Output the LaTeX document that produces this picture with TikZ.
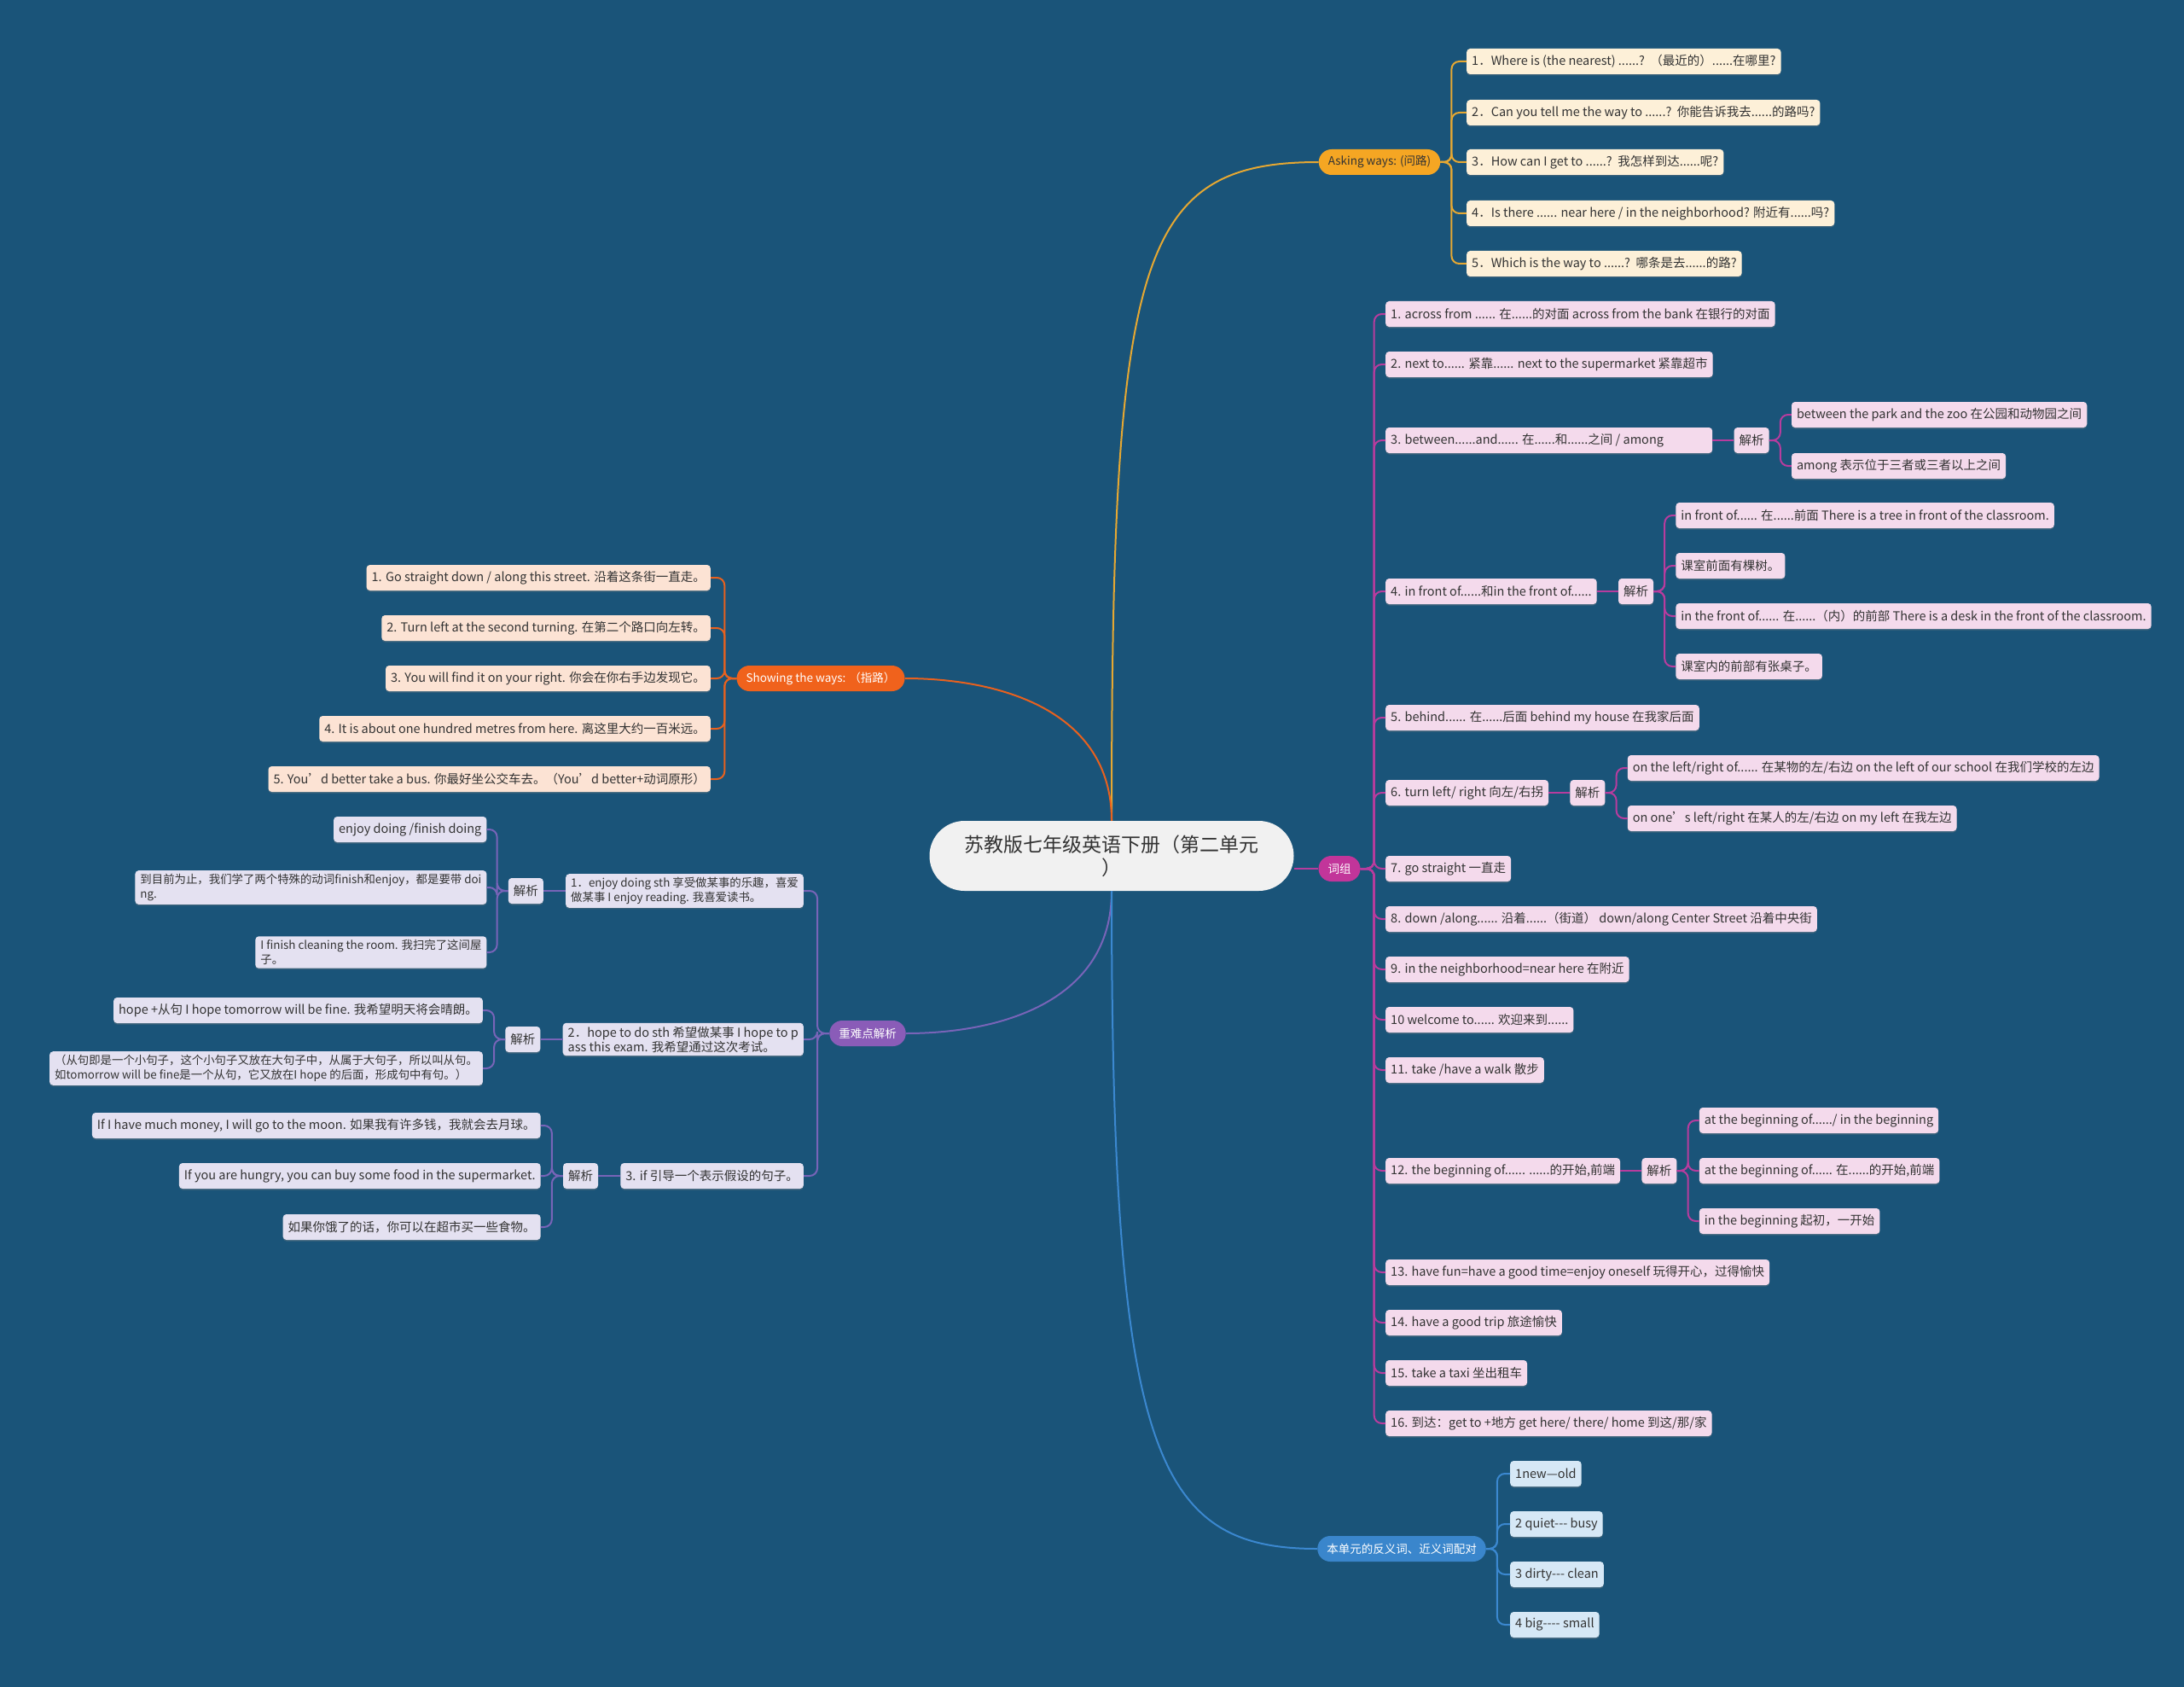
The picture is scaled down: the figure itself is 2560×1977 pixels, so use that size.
\documentclass[tikz,border=0pt]{standalone}
\usepackage{fontspec}
\setmainfont{Noto Sans CJK SC}[Ligatures=TeXOff]
\usetikzlibrary{positioning, shadows}
\definecolor{bgblue}{HTML}{1A5479}
\definecolor{rootgray}{HTML}{F1F1F1}
\definecolor{inkgray}{HTML}{333333}
\definecolor{askfill}{HTML}{F5A623}
\definecolor{askpale}{HTML}{FDF0D8}
\definecolor{askline}{HTML}{E6A832}
\definecolor{showfill}{HTML}{F0621C}
\definecolor{showpale}{HTML}{FCE3D4}
\definecolor{showline}{HTML}{E8611E}
\definecolor{czfill}{HTML}{C2359A}
\definecolor{czpale}{HTML}{F4DAEC}
\definecolor{czline}{HTML}{B83C9E}
\definecolor{znfill}{HTML}{8A5CB8}
\definecolor{znpale}{HTML}{E4E1F1}
\definecolor{znline}{HTML}{7864B8}
\definecolor{blfill}{HTML}{3A86CC}
\definecolor{blpale}{HTML}{D6E8F6}
\definecolor{blline}{HTML}{3B88D0}
\tikzset{
  rootbox/.style={fill=rootgray, text=inkgray, rounded corners=41pt,
    minimum width=427pt, minimum height=82pt, align=center,
    font=\fontsize{23}{27}\selectfont},
  mainbox/.style={rounded corners=15pt, minimum height=30pt, inner xsep=11pt,
    inner ysep=3pt, text=white, font=\fontsize{13.5}{16}\selectfont},
  leafbox/.style={rounded corners=4pt, minimum height=30pt, inner xsep=6pt,
    inner ysep=4pt, text=inkgray, align=left, font=\fontsize{14.5}{17}\selectfont,
    drop shadow={shadow xshift=0pt, shadow yshift=-1.5pt, opacity=0.35}},
  tightleaf/.style={font=\fontsize{13.4}{17}\selectfont},
  askleaf/.style={leafbox, fill=askpale},
  showleaf/.style={leafbox, fill=showpale},
  czleaf/.style={leafbox, fill=czpale},
  znleaf/.style={leafbox, fill=znpale},
  blleaf/.style={leafbox, fill=blpale},
  wire/.style={line width=2pt, rounded corners=9pt},
  bigwire/.style={line width=2pt}
}
\begin{document}
\begin{tikzpicture}[x=1pt, y=-1pt]
  \fill[bgblue] (0,0) rectangle (2560,1977);
  \useasboundingbox (0,0) rectangle (2560,1977);

  \node[rootbox] (root) at (1303,1003) {苏教版七年级英语下册（第二单元\\）};

  % asking ways
  \node[mainbox, fill=askfill, text=inkgray] (aw) at (1617,190) {Asking ways: (问路)};
  \node[askleaf, anchor=west] (a1) at (1719,72) {1．Where is (the nearest) ......?\ \ （最近的）......在哪里?};
  \node[askleaf, anchor=west] (a2) at (1719,132) {2．Can you tell me the way to ......?\ \ 你能告诉我去......的路吗?};
  \node[askleaf, anchor=west] (a3) at (1719,190) {3．How can I get to ......?\ \ 我怎样到达......呢?};
  \node[askleaf, anchor=west] (a4) at (1719,250) {4．Is there ...... near here / in the neighborhood? 附近有......吗?};
  \node[askleaf, anchor=west] (a5) at (1719,309) {5．Which is the way to ......?\ \ 哪条是去......的路?};

  % showing the ways
  \node[mainbox, fill=showfill] (sw) at (962,795) {Showing the ways: （指路）};
  \node[showleaf, anchor=east] (s1) at (833,677) {1. Go straight down / along this street. 沿着这条街一直走。};
  \node[showleaf, anchor=east] (s2) at (833,736) {2. Turn left at the second turning. 在第二个路口向左转。};
  \node[showleaf, anchor=east] (s3) at (833,795) {3. You will find it on your right. 你会在你右手边发现它。};
  \node[showleaf, anchor=east] (s4) at (833,854) {4. It is about one hundred metres from here. 离这里大约一百米远。};
  \node[showleaf, anchor=east] (s5) at (833,913) {5. You’d better take a bus. 你最好坐公交车去。（You’d better+动词原形）};

  % phrases
  \node[mainbox, fill=czfill] (cz) at (1570,1018) {词组};
  \node[czleaf, anchor=west] (p1) at (1624,368) {1. across from ...... 在......的对面 across from the bank 在银行的对面};
  \node[czleaf, anchor=west] (p2) at (1624,427) {2. next to...... 紧靠...... next to the supermarket 紧靠超市};
  \node[czleaf, anchor=west] (p3) at (1624,516) {\makebox[371pt][l]{3. between......and...... 在......和......之间 / among}};
  \node[czleaf, right=25pt of p3] (j3) {解析};
  \node[czleaf, right=26pt of j3, yshift=30pt] (p3a) {between the park and the zoo 在公园和动物园之间};
  \node[czleaf, right=26pt of j3, yshift=-30pt] (p3b) {among 表示位于三者或三者以上之间};
  \node[czleaf, anchor=west] (p4) at (1624,693) {4. in front of......和in the front of......};
  \node[czleaf, right=25pt of p4] (j4) {解析};
  \node[czleaf, right=26pt of j4, yshift=89pt] (p4a) {in front of...... 在......前面 There is a tree in front of the classroom.};
  \node[czleaf, right=26pt of j4, yshift=30pt] (p4b) {课室前面有棵树。};
  \node[czleaf, right=26pt of j4, yshift=-29pt] (p4c) {in the front of...... 在......（内）的前部 There is a desk in the front of the classroom.};
  \node[czleaf, right=26pt of j4, yshift=-88pt] (p4d) {课室内的前部有张桌子。};
  \node[czleaf, anchor=west] (p5) at (1624,841) {5. behind...... 在......后面 behind my house 在我家后面};
  \node[czleaf, anchor=west] (p6) at (1624,929) {6. turn left/ right 向左/右拐};
  \node[czleaf, right=25pt of p6] (j6) {解析};
  \node[czleaf, right=26pt of j6, yshift=29pt] (p6a) {on the left/right of...... 在某物的左/右边 on the left of our school 在我们学校的左边};
  \node[czleaf, right=26pt of j6, yshift=-30pt] (p6b) {on one’s left/right 在某人的左/右边 on my left 在我左边};
  \node[czleaf, anchor=west] (p7) at (1624,1018) {7. go straight 一直走};
  \node[czleaf, anchor=west] (p8) at (1624,1077) {8. down /along...... 沿着......（街道） down/along Center Street 沿着中央街};
  \node[czleaf, anchor=west] (p9) at (1624,1136) {9. in the neighborhood=near here 在附近};
  \node[czleaf, anchor=west] (p10) at (1624,1195) {10 welcome to...... 欢迎来到......};
  \node[czleaf, anchor=west] (p11) at (1624,1254) {11. take /have a walk 散步};
  \node[czleaf, anchor=west] (p12) at (1624,1372) {12. the beginning of...... ......的开始,前端};
  \node[czleaf, right=25pt of p12] (j12) {解析};
  \node[czleaf, right=26pt of j12, yshift=59pt] (p12a) {at the beginning of....../ in the beginning};
  \node[czleaf, right=26pt of j12] (p12b) {at the beginning of...... 在......的开始,前端};
  \node[czleaf, right=26pt of j12, yshift=-59pt] (p12c) {in the beginning 起初，一开始};
  \node[czleaf, anchor=west] (p13) at (1624,1491) {13. have fun=have a good time=enjoy oneself 玩得开心，过得愉快};
  \node[czleaf, anchor=west] (p14) at (1624,1550) {14. have a good trip 旅途愉快};
  \node[czleaf, anchor=west] (p15) at (1624,1609) {15. take a taxi 坐出租车};
  \node[czleaf, anchor=west] (p16) at (1624,1668) {16. 到达：get to +地方 get here/ there/ home 到这/那/家};

  % key points
  \node[mainbox, fill=znfill] (zn) at (1017,1211) {重难点解析};
  \node[znleaf, tightleaf, anchor=east] (q1) at (942,1044) {1．enjoy doing sth 享受做某事的乐趣，喜爱\\做某事 I enjoy reading. 我喜爱读书。};
  \node[znleaf, left=26pt of q1] (jq1) {解析};
  \node[znleaf, left=25pt of jq1, yshift=72pt] (q1a) {enjoy doing /finish doing};
  \node[znleaf, tightleaf, left=25pt of jq1, yshift=4pt] (q1b) {到目前为止，我们学了两个特殊的动词finish和enjoy，都是要带 doi\\ng.};
  \node[znleaf, tightleaf, left=25pt of jq1, yshift=-72pt] (q1c) {I finish cleaning the room. 我扫完了这间屋\\子。};
  \node[znleaf, anchor=east] (q2) at (942,1218) {2．hope to do sth 希望做某事 I hope to p\\ass this exam. 我希望通过这次考试。};
  \node[znleaf, left=26pt of q2] (jq2) {解析};
  \node[znleaf, left=26pt of jq2, yshift=34pt] (q2a) {hope +从句 I hope tomorrow will be fine. 我希望明天将会晴朗。};
  \node[znleaf, tightleaf, left=26pt of jq2, yshift=-34pt] (q2b) {（从句即是一个小句子，这个小句子又放在大句子中，从属于大句子，所以叫从句。\\如tomorrow will be fine是一个从句，它又放在I hope 的后面，形成句中有句。）};
  \node[znleaf, anchor=east] (q3) at (942,1378) {3. if 引导一个表示假设的句子。};
  \node[znleaf, left=26pt of q3] (jq3) {解析};
  \node[znleaf, left=26pt of jq3, yshift=59pt] (q3a) {If I have much money, I will go to the moon. 如果我有许多钱，我就会去月球。};
  \node[znleaf, left=26pt of jq3] (q3b) {If you are hungry, you can buy some food in the supermarket.};
  \node[znleaf, left=26pt of jq3, yshift=-60pt] (q3c) {如果你饿了的话，你可以在超市买一些食物。};

  % antonyms
  \node[mainbox, fill=blfill] (bl) at (1643,1815) {本单元的反义词、近义词配对};
  \node[blleaf, anchor=west] (b1) at (1770,1727) {1new—old};
  \node[blleaf, anchor=west] (b2) at (1770,1786) {2 quiet--- busy};
  \node[blleaf, anchor=west] (b3) at (1770,1845) {3 dirty--- clean};
  \node[blleaf, anchor=west] (b4) at (1770,1904) {4 big---- small};

  % branches from the root
  \draw[bigwire, askline] (root.north) .. controls +(0,-660) and +(-212,0) .. (aw.west);
  \draw[bigwire, showline] (root.north) .. controls +(0,-130) and +(110,0) .. (sw.east);
  \draw[bigwire, znline] (root.south) .. controls +(0,130) and +(110,0) .. (zn.east);
  \draw[bigwire, blline] (root.south) .. controls +(0,660) and +(-190,0) .. (bl.west);
  \draw[bigwire, czline] (root.east |- cz.west) -- (cz.west);

  \foreach \n in {a1,a2,a3,a4,a5}
    \draw[wire, askline] (aw.east) -- ++(13,0) |- (\n.west);
  \foreach \n in {s1,s2,s3,s4,s5}
    \draw[wire, showline] (sw.west) -- ++(-14,0) |- (\n.east);
  \foreach \n in {p1,p2,p3,p4,p5,p6,p7,p8,p9,p10,p11,p12,p13,p14,p15,p16}
    \draw[wire, czline] (cz.east) -- ++(16,0) |- (\n.west);
  \foreach \k in {3,4,6,12}
    \draw[wire, czline] (p\k.east) -- (j\k.west);
  \foreach \n in {p3a,p3b}
    \draw[wire, czline] (j3.east) -- ++(13,0) |- (\n.west);
  \foreach \n in {p4a,p4b,p4c,p4d}
    \draw[wire, czline] (j4.east) -- ++(13,0) |- (\n.west);
  \foreach \n in {p6a,p6b}
    \draw[wire, czline] (j6.east) -- ++(13,0) |- (\n.west);
  \foreach \n in {p12a,p12b,p12c}
    \draw[wire, czline] (j12.east) -- ++(13,0) |- (\n.west);
  \foreach \n in {q1,q2,q3}
    \draw[wire, znline] (zn.west) -- ++(-14,0) |- (\n.east);
  \foreach \k in {1,2,3}
    \draw[wire, znline] (q\k.west) -- (jq\k.east);
  \foreach \n in {q1a,q1b,q1c}
    \draw[wire, znline] (jq1.west) -- ++(-13,0) |- (\n.east);
  \foreach \n in {q2a,q2b}
    \draw[wire, znline] (jq2.west) -- ++(-13,0) |- (\n.east);
  \foreach \n in {q3a,q3b,q3c}
    \draw[wire, znline] (jq3.west) -- ++(-13,0) |- (\n.east);
  \foreach \n in {b1,b2,b3,b4}
    \draw[wire, blline] (bl.east) -- ++(13,0) |- (\n.west);
\end{tikzpicture}
\end{document}
